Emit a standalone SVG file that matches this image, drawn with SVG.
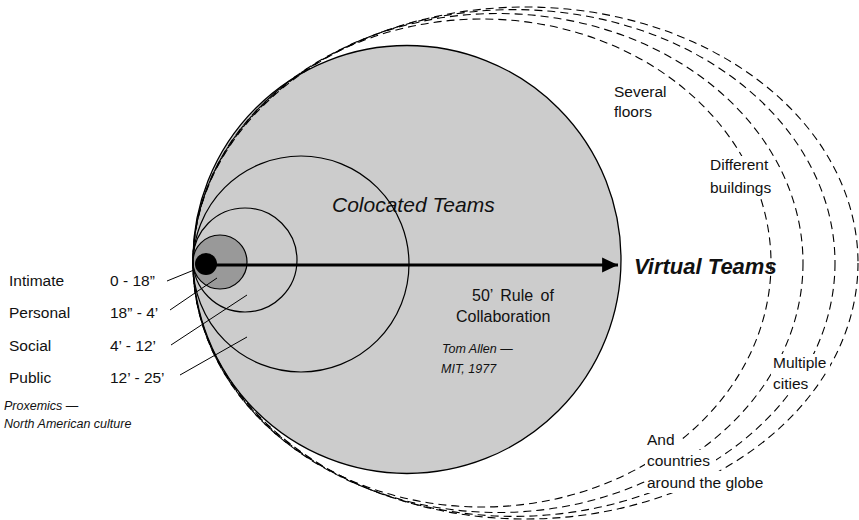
<svg xmlns="http://www.w3.org/2000/svg" width="859" height="520" viewBox="0 0 859 520">
<defs>
<style>
.t{font-family:"Liberation Sans",Arial,sans-serif;font-size:15.5px;fill:#111}
.i{font-style:italic}
.s{font-size:12.5px}
.ring{fill:none;stroke:#000;stroke-width:1.2}
.dash{fill:none;stroke:#000;stroke-width:1.1;stroke-dasharray:8 5}
.ptr{stroke:#000;stroke-width:1;fill:none}
.bg{fill:#fff}
</style>
<marker id="ah" markerWidth="6" markerHeight="6" refX="5.3" refY="2.5" orient="auto" markerUnits="strokeWidth" viewBox="0 0 6 5">
<path d="M0,0 L5.3,2.5 L0,5 Z" fill="#000"/>
</marker>
</defs>
<rect width="859" height="520" fill="#fff"/>
<g id="colocated">
<circle cx="407" cy="259.5" r="214" fill="#cccccc" stroke="#000" stroke-width="1.3"/>
<text class="t i" x="332" y="212" style="font-size:21px">Colocated Teams</text>
</g>
<g id="public-zone"><circle class="ring" cx="301" cy="264" r="108"/></g>
<g id="social-zone"><circle class="ring" cx="245" cy="260" r="52"/></g>
<g id="personal-zone"><circle cx="220" cy="262" r="27" fill="#999999" stroke="#000" stroke-width="1.2"/></g>
<g id="intimate-zone"><circle cx="206" cy="264" r="11" fill="#000"/></g>
<g id="virtual-rings">
<ellipse class="dash" cx="482" cy="263" rx="289" ry="244"/>
<ellipse class="dash" cx="498" cy="263" rx="305" ry="249.5"/>
<ellipse class="dash" cx="514" cy="263" rx="321" ry="253.4"/>
<ellipse class="dash" cx="525.5" cy="263" rx="332.5" ry="256"/>
</g>
<g id="connectors">
<line x1="206" y1="265" x2="618" y2="265" stroke="#000" stroke-width="3" marker-end="url(#ah)"/>
<line class="ptr" x1="167" y1="281" x2="194" y2="270"/>
<line class="ptr" x1="170" y1="310" x2="217" y2="278"/>
<line class="ptr" x1="171" y1="345" x2="247" y2="295"/>
<line class="ptr" x1="180" y1="375" x2="247" y2="337"/>
</g>
<g id="virtual-label">
<text class="t i" x="634" y="274" style="font-size:22px;font-weight:bold">Virtual Teams</text>
</g>
<g id="rule-label">
<text class="t" x="472" y="301" style="font-size:16px;word-spacing:3px">50’ Rule of</text>
<text class="t" x="456" y="322" style="font-size:16px">Collaboration</text>
<text class="t i s" x="442" y="353">Tom Allen —</text>
<text class="t i s" x="441" y="373">MIT, 1977</text>
</g>
<g id="label-floors">
<text class="t" x="614" y="97">Several</text>
<text class="t" x="614" y="117">floors</text>
</g>
<g id="label-buildings">
<rect class="bg" x="707" y="156" width="67" height="42"/>
<text class="t" x="710" y="170">Different</text>
<text class="t" x="710" y="193">buildings</text>
</g>
<g id="label-cities">
<rect class="bg" x="771" y="354" width="59" height="18"/>
<rect class="bg" x="771" y="372" width="40" height="22"/>
<text class="t" x="773" y="368">Multiple</text>
<text class="t" x="773" y="389">cities</text>
</g>
<g id="label-countries">
<rect class="bg" x="645" y="431" width="35" height="19"/>
<rect class="bg" x="645" y="450" width="71" height="21"/>
<rect class="bg" x="645" y="471" width="126" height="22"/>
<text class="t" x="647" y="445">And</text>
<text class="t" x="647" y="466">countries</text>
<text class="t" x="647" y="488">around the globe</text>
</g>
<g id="proxemics">
<text class="t" x="9" y="286">Intimate</text>
<text class="t" x="110" y="286">0 - 18”</text>
<text class="t" x="9" y="318">Personal</text>
<text class="t" x="110" y="318">18” - 4’</text>
<text class="t" x="9" y="351">Social</text>
<text class="t" x="110" y="351">4’ - 12’</text>
<text class="t" x="9" y="383">Public</text>
<text class="t" x="110" y="383">12’ - 25’</text>
<text class="t i s" x="4" y="410">Proxemics —</text>
<text class="t i s" x="4" y="428">North American culture</text>
</g>
</svg>
